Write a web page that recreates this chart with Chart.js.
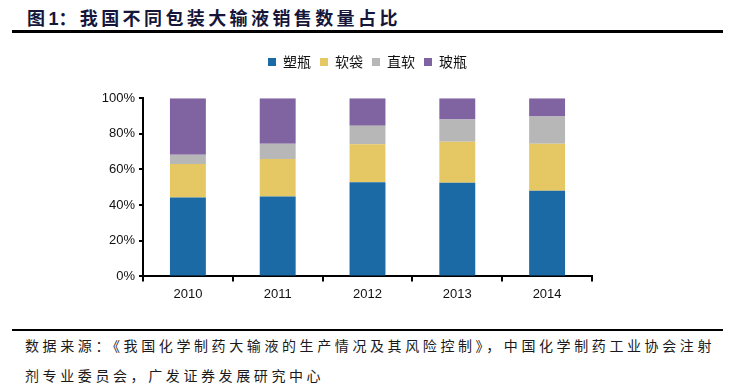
<!DOCTYPE html>
<html>
<head>
<meta charset="utf-8">
<script src="https://cdn.jsdelivr.net/npm/chart.js@4"></script>
<style>
  body { margin: 0; width: 734px; height: 391px; background: #fff; position: relative; overflow: hidden; }
  .title { position: absolute; left: 27px; top: 4px; font: bold 18px "Noto Sans CJK SC", sans-serif; letter-spacing: 3.4px; color: #15163a; white-space: nowrap; }
  .title .num { font-family: Arial, "Liberation Sans", sans-serif; letter-spacing: 0; }
  .rule { position: absolute; left: 12px; width: 711px; background: #000; }
  .source { position: absolute; left: 25px; font: 14px "Noto Sans CJK SC", sans-serif; letter-spacing: 3.6px; color: #1a1a1a; white-space: nowrap; }
  #wrap { position: absolute; left: 0; top: 40px; width: 734px; height: 280px; }
</style>
</head>
<body>
<div class="title">图<span class="num">1</span>：我国不同包装大输液销售数量占比</div>
<div class="rule" style="top:30px;height:3px"></div>
<div id="wrap"><canvas id="chart"></canvas></div>
<div class="rule" style="top:329px;height:2px"></div>
<div class="source" style="top:335px">数据来源：《我国化学制药大输液的生产情况及其风险控制》，中国化学制药工业协会注射</div>
<div class="source" style="top:365px">剂专业委员会，广发证券发展研究中心</div>
<script>
  const years = ["2010", "2011", "2012", "2013", "2014"];
  const plasticBottle = [44.3, 44.9, 52.8, 52.5, 48.1];
  const softBag = [18.8, 21.0, 21.4, 23.1, 26.3];
  const straightSoft = [5.1, 8.5, 10.3, 12.5, 15.4];
  const glassBottle = [31.8, 25.6, 15.5, 11.9, 10.2];
  const yTicks = [0, 20, 40, 60, 80, 100];

  const series = [
    { label: "塑瓶", data: plasticBottle, color: "#1b6aa5" },
    { label: "软袋", data: softBag, color: "#e5c864" },
    { label: "直软", data: straightSoft, color: "#b7b7b7" },
    { label: "玻瓶", data: glassBottle, color: "#8064a2" },
  ];

  new Chart(document.getElementById("chart"), {
    type: "bar",
    data: {
      labels: years,
      datasets: series.map((s) => ({
        label: s.label,
        data: s.data,
        backgroundColor: s.color,
        borderWidth: 0,
        categoryPercentage: 1,
        barPercentage: 0.4,
      })),
    },
    options: {
      responsive: true,
      maintainAspectRatio: false,
      animation: false,
      layout: { padding: { left: 80, right: 142, top: 6, bottom: 13 } },
      plugins: {
        tooltip: { enabled: false },
        legend: {
          position: "top",
          fullSize: false,
          labels: {
            boxWidth: 8,
            boxHeight: 8,
            padding: 9,
            color: "#111",
            font: { family: "'Noto Sans CJK SC', sans-serif", size: 14 },
          },
        },
        // empty spacer between legend and plot area
        subtitle: {
          display: true,
          text: "",
          position: "top",
          fullSize: false,
          weight: 500,
          font: { size: 1 },
          padding: { top: 0, bottom: 18 },
        },
      },
      scales: {
        x: {
          stacked: true,
          offset: true,
          border: { color: "#000", width: 2 },
          grid: { offset: true, drawOnChartArea: false, color: "#000", lineWidth: 2, tickLength: 5 },
          ticks: { color: "#111", padding: 5, font: { family: "Arial, 'Liberation Sans', sans-serif", size: 13 } },
        },
        y: {
          stacked: true,
          min: 0,
          max: 100,
          afterBuildTicks: (axis) => { axis.ticks = yTicks.map((v) => ({ value: v })); },
          afterFit: (axis) => { axis.width = 63; },
          border: { color: "#000", width: 2 },
          grid: { drawOnChartArea: false, color: "#000", lineWidth: 2, tickLength: 4 },
          ticks: {
            color: "#111",
            padding: 4,
            font: { family: "Arial, 'Liberation Sans', sans-serif", size: 13 },
            callback: (v) => v + "%",
          },
        },
      },
    },
  });
</script>
</body>
</html>
